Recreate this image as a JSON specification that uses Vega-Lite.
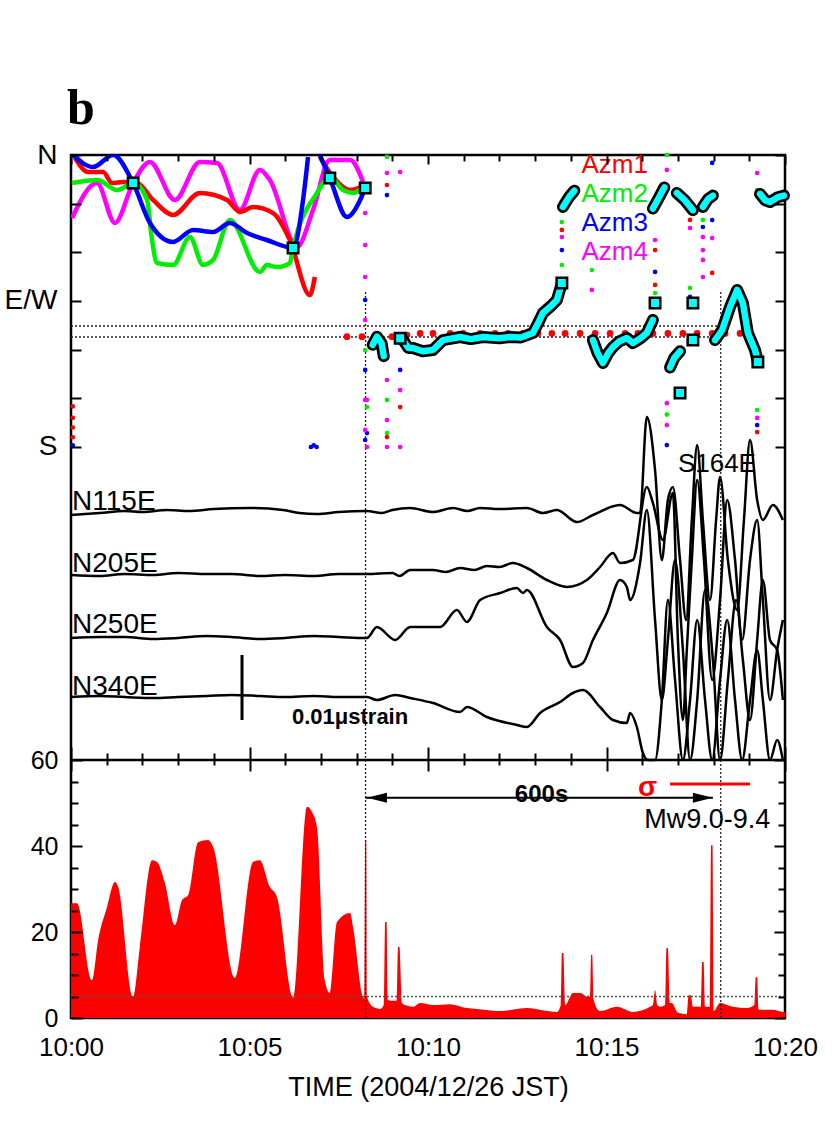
{
"$schema": "https://vega.github.io/schema/vega-lite/v6.json",
"autosize": {"type": "none"},
"padding": {"left": 71, "top": 155, "right": 47, "bottom": 118},
"width": 714,
"height": 863,
"background": "white",
"title": {"text": "b", "anchor": "start", "frame": "group", "font": "Liberation Serif", "fontSize": 50, "fontWeight": "bold", "color": "black", "offset": -33, "baseline": "alphabetic", "dx": -4},
"config": {
  "view": {"stroke": "black", "strokeWidth": 2.5},
  "axis": {"grid": false, "domain": false, "labelColor": "black", "tickColor": "black", "labelFont": "Liberation Sans", "titleFont": "Liberation Sans", "titleColor": "black"},
  "text": {"font": "Liberation Sans"}
},
"datasets": {
  "azm": [
    {"t":0.03,"deg":38.8,"s":"Azm4","seg":"m1"},{"t":0.73,"deg":17.3,"s":"Azm4","seg":"m1"},{"t":1.23,"deg":41.9,"s":"Azm4","seg":"m1"},{"t":1.74,"deg":17.3,"s":"Azm4","seg":"m1"},{"t":2.21,"deg":4.3,"s":"Azm4","seg":"m1"},{"t":2.91,"deg":27.7,"s":"Azm4","seg":"m1"},{"t":3.61,"deg":4.3,"s":"Azm4","seg":"m1"},{"t":4.09,"deg":4.9,"s":"Azm4","seg":"m1"},{"t":4.73,"deg":33.9,"s":"Azm4","seg":"m1"},{"t":5.29,"deg":9.2,"s":"Azm4","seg":"m1"},{"t":5.57,"deg":15.4,"s":"Azm4","seg":"m1"},{"t":6.33,"deg":56.7,"s":"Azm4","seg":"m1"},{"t":6.78,"deg":33.9,"s":"Azm4","seg":"m1"},{"t":7.25,"deg":3.1,"s":"Azm4","seg":"m1"},{"t":7.82,"deg":3.1,"s":"Azm4","seg":"m1"},{"t":8.18,"deg":16.6,"s":"Azm4","seg":"m1"},
    {"t":0.11,"deg":1.8,"s":"Azm1","seg":"r1"},{"t":0.48,"deg":10.5,"s":"Azm1","seg":"r1"},{"t":0.9,"deg":10.5,"s":"Azm1","seg":"r1"},{"t":1.15,"deg":17.3,"s":"Azm1","seg":"r1"},{"t":1.46,"deg":16.6,"s":"Azm1","seg":"r1"},{"t":1.85,"deg":17.3,"s":"Azm1","seg":"r1"},{"t":2.3,"deg":27.7,"s":"Azm1","seg":"r1"},{"t":2.86,"deg":37.0,"s":"Azm1","seg":"r1"},{"t":3.61,"deg":23.4,"s":"Azm1","seg":"r1"},{"t":4.37,"deg":27.7,"s":"Azm1","seg":"r1"},{"t":4.73,"deg":35.1,"s":"Azm1","seg":"r1"},{"t":5.1,"deg":32.1,"s":"Azm1","seg":"r1"},{"t":5.66,"deg":35.8,"s":"Azm1","seg":"r1"},{"t":6.13,"deg":52.4,"s":"Azm1","seg":"r1"},{"t":6.69,"deg":86.3,"s":"Azm1","seg":"r1"},{"t":6.83,"deg":75.2,"s":"Azm1","seg":"r1"},
    {"t":6.97,"deg":1.2,"s":"Azm1","seg":"r2"},{"t":7.34,"deg":13.6,"s":"Azm1","seg":"r2"},{"t":7.82,"deg":21.6,"s":"Azm1","seg":"r2"},{"t":8.15,"deg":19.7,"s":"Azm1","seg":"r2"},
    {"t":0.03,"deg":17.3,"s":"Azm2","seg":"g1"},{"t":0.73,"deg":15.4,"s":"Azm2","seg":"g1"},{"t":1.29,"deg":21.6,"s":"Azm2","seg":"g1"},{"t":1.74,"deg":17.3,"s":"Azm2","seg":"g1"},{"t":2.13,"deg":27.7,"s":"Azm2","seg":"g1"},{"t":2.27,"deg":52.4,"s":"Azm2","seg":"g1"},{"t":2.41,"deg":66.6,"s":"Azm2","seg":"g1"},{"t":2.86,"deg":67.8,"s":"Azm2","seg":"g1"},{"t":3.33,"deg":50.6,"s":"Azm2","seg":"g1"},{"t":3.7,"deg":67.8,"s":"Azm2","seg":"g1"},{"t":3.98,"deg":64.7,"s":"Azm2","seg":"g1"},{"t":4.45,"deg":40.1,"s":"Azm2","seg":"g1"},{"t":5.29,"deg":72.1,"s":"Azm2","seg":"g1"},{"t":5.49,"deg":67.8,"s":"Azm2","seg":"g1"},{"t":5.77,"deg":69.1,"s":"Azm2","seg":"g1"},{"t":6.13,"deg":66.6,"s":"Azm2","seg":"g1"},{"t":6.22,"deg":57.3,"s":"Azm2","seg":"g1"},{"t":6.89,"deg":23.4,"s":"Azm2","seg":"g1"},{"t":7.25,"deg":13.6,"s":"Azm2","seg":"g1"},{"t":7.62,"deg":21.6,"s":"Azm2","seg":"g1"},{"t":7.9,"deg":23.4,"s":"Azm2","seg":"g1"},{"t":8.18,"deg":19.7,"s":"Azm2","seg":"g1"},
    {"t":0.06,"deg":0,"s":"Azm3","seg":"b1"},{"t":0.62,"deg":7.4,"s":"Azm3","seg":"b1"},{"t":1.18,"deg":0,"s":"Azm3","seg":"b1"},{"t":1.74,"deg":17.3,"s":"Azm3","seg":"b1"},{"t":2.21,"deg":41.9,"s":"Azm3","seg":"b1"},{"t":2.86,"deg":53.6,"s":"Azm3","seg":"b1"},{"t":3.42,"deg":46.2,"s":"Azm3","seg":"b1"},{"t":3.98,"deg":47.5,"s":"Azm3","seg":"b1"},{"t":4.45,"deg":41.9,"s":"Azm3","seg":"b1"},{"t":4.93,"deg":48.1,"s":"Azm3","seg":"b1"},{"t":5.49,"deg":52.4,"s":"Azm3","seg":"b1"},{"t":6.22,"deg":57.3,"s":"Azm3","seg":"b1"},{"t":6.5,"deg":27.7,"s":"Azm3","seg":"b1"},{"t":6.64,"deg":1.2,"s":"Azm3","seg":"b1"},
    {"t":6.97,"deg":0,"s":"Azm3","seg":"b2"},{"t":7.25,"deg":14.2,"s":"Azm3","seg":"b2"},{"t":7.73,"deg":38.2,"s":"Azm3","seg":"b2"},{"t":8.1,"deg":27.7,"s":"Azm3","seg":"b2"},{"t":8.24,"deg":20.3,"s":"Azm3","seg":"b2"}
  ],
  "dots": [
    {"t":8.24,"deg":89.4,"s":"Azm3"},{"t":8.24,"deg":132.5,"s":"Azm3"},{"t":8.24,"deg":175.7,"s":"Azm3"},{"t":8.85,"deg":24.7,"s":"Azm3"},{"t":9.22,"deg":132.5,"s":"Azm3"},{"t":13.75,"deg":58.6,"s":"Azm3"},{"t":16.36,"deg":72.1,"s":"Azm3"},{"t":16.69,"deg":178.8,"s":"Azm3"},{"t":17.34,"deg":87.5,"s":"Azm3"},{"t":17.7,"deg":44.4,"s":"Azm3"},{"t":17.96,"deg":4.9,"s":"Azm3"},{"t":17.96,"deg":40.1,"s":"Azm3"},{"t":19.22,"deg":166.5,"s":"Azm3"},{"t":0.05,"deg":179,"s":"Azm3"},{"t":6.72,"deg":180,"s":"Azm3"},{"t":6.8,"deg":179,"s":"Azm3"},{"t":6.88,"deg":180,"s":"Azm3"},{"t":8.29,"deg":171.4,"s":"Azm3"},
    {"t":8.24,"deg":35.8,"s":"Azm4"},{"t":8.24,"deg":55.5,"s":"Azm4"},{"t":8.24,"deg":75.2,"s":"Azm4"},{"t":8.24,"deg":101.7,"s":"Azm4"},{"t":8.24,"deg":151,"s":"Azm4"},{"t":8.24,"deg":169.5,"s":"Azm4"},{"t":8.85,"deg":11.1,"s":"Azm4"},{"t":8.85,"deg":138.7,"s":"Azm4"},{"t":8.85,"deg":163.4,"s":"Azm4"},{"t":8.85,"deg":180,"s":"Azm4"},{"t":9.22,"deg":10.5,"s":"Azm4"},{"t":9.22,"deg":144.9,"s":"Azm4"},{"t":9.22,"deg":180,"s":"Azm4"},{"t":13.75,"deg":50.6,"s":"Azm4"},{"t":14.59,"deg":83.2,"s":"Azm4"},{"t":16.36,"deg":52.4,"s":"Azm4"},{"t":16.69,"deg":9.2,"s":"Azm4"},{"t":16.69,"deg":153,"s":"Azm4"},{"t":16.69,"deg":166.5,"s":"Azm4"},{"t":17.34,"deg":45,"s":"Azm4"},{"t":17.7,"deg":50.6,"s":"Azm4"},{"t":17.7,"deg":58.6,"s":"Azm4"},{"t":17.7,"deg":64.7,"s":"Azm4"},{"t":17.7,"deg":75.2,"s":"Azm4"},{"t":17.96,"deg":51.2,"s":"Azm4"},{"t":19.22,"deg":11.1,"s":"Azm4"},{"t":19.22,"deg":162.1,"s":"Azm4"},{"t":8.29,"deg":151,"s":"Azm4"},{"t":8.29,"deg":180,"s":"Azm4"},
    {"t":8.24,"deg":120.2,"s":"Azm2"},{"t":8.85,"deg":1.2,"s":"Azm2"},{"t":8.85,"deg":151,"s":"Azm2"},{"t":8.85,"deg":171.4,"s":"Azm2"},{"t":13.75,"deg":41.3,"s":"Azm2"},{"t":13.75,"deg":67.8,"s":"Azm2"},{"t":14.59,"deg":70.9,"s":"Azm2"},{"t":16.36,"deg":85.1,"s":"Azm2"},{"t":16.69,"deg":0,"s":"Azm2"},{"t":16.69,"deg":160,"s":"Azm2"},{"t":17.34,"deg":82,"s":"Azm2"},{"t":17.7,"deg":40,"s":"Azm2"},{"t":17.96,"deg":23.4,"s":"Azm2"},{"t":19.22,"deg":21.6,"s":"Azm2"},{"t":19.22,"deg":157.2,"s":"Azm2"},{"t":8.29,"deg":155.4,"s":"Azm2"},
    {"t":8.85,"deg":18.5,"s":"Azm1"},{"t":8.85,"deg":173.9,"s":"Azm1"},{"t":9.22,"deg":155.4,"s":"Azm1"},{"t":13.75,"deg":46.2,"s":"Azm1"},{"t":16.36,"deg":58.6,"s":"Azm1"},{"t":16.36,"deg":80.1,"s":"Azm1"},{"t":17.34,"deg":40,"s":"Azm1"},{"t":17.96,"deg":72.7,"s":"Azm1"},{"t":19.22,"deg":170.8,"s":"Azm1"},{"t":0.05,"deg":155,"s":"Azm1"},{"t":0.05,"deg":162,"s":"Azm1"},{"t":0.05,"deg":168,"s":"Azm1"},{"t":0.05,"deg":174,"s":"Azm1"}
  ],
  "reddots": [
    {"t":7.73,"deg":112},{"t":8.15,"deg":112},{"t":8.57,"deg":112},{"t":8.99,"deg":112},{"t":9.41,"deg":111},{"t":9.78,"deg":110},{"t":10.14,"deg":110},{"t":10.62,"deg":110},{"t":10.98,"deg":110},{"t":11.46,"deg":110},{"t":11.88,"deg":110},{"t":12.24,"deg":110},{"t":12.66,"deg":110},{"t":13.08,"deg":110},{"t":13.47,"deg":110},{"t":13.84,"deg":110},{"t":14.26,"deg":110},{"t":14.68,"deg":110},{"t":15.1,"deg":110},{"t":15.52,"deg":110},{"t":15.88,"deg":110},{"t":16.3,"deg":110},{"t":16.72,"deg":110},{"t":17.14,"deg":110},{"t":17.54,"deg":110},{"t":17.96,"deg":110},{"t":18.32,"deg":110},{"t":18.74,"deg":110}
  ],
  "band": [
    {"t":8.45,"deg":117,"seg":"A"},{"t":8.57,"deg":112,"seg":"A"},{"t":8.7,"deg":116,"seg":"A"},{"t":8.76,"deg":124,"seg":"A"},
    {"t":9.27,"deg":113,"seg":"B"},{"t":9.45,"deg":119,"seg":"B"},{"t":9.58,"deg":119,"seg":"B"},{"t":9.85,"deg":121,"seg":"B"},{"t":10.14,"deg":120.2,"seg":"B"},{"t":10.42,"deg":114.1,"seg":"B"},{"t":10.9,"deg":112.2,"seg":"B"},{"t":11.2,"deg":113.5,"seg":"B"},{"t":11.54,"deg":112.2,"seg":"B"},{"t":12.0,"deg":113,"seg":"B"},{"t":12.3,"deg":112.2,"seg":"B"},{"t":12.6,"deg":112.5,"seg":"B"},{"t":12.94,"deg":109.7,"seg":"B"},{"t":13.1,"deg":103,"seg":"B"},{"t":13.22,"deg":97.4,"seg":"B"},{"t":13.45,"deg":93,"seg":"B"},{"t":13.61,"deg":89.4,"seg":"B"},{"t":13.75,"deg":79,"seg":"B"},
    {"t":13.78,"deg":32,"seg":"C"},{"t":13.95,"deg":26,"seg":"C"},{"t":14.1,"deg":22,"seg":"C"},
    {"t":14.62,"deg":114.1,"seg":"D"},{"t":14.75,"deg":122,"seg":"D"},{"t":14.9,"deg":128.2,"seg":"D"},{"t":15.05,"deg":122,"seg":"D"},{"t":15.18,"deg":118.4,"seg":"D"},{"t":15.35,"deg":115,"seg":"D"},{"t":15.57,"deg":112.8,"seg":"D"},{"t":15.74,"deg":115.9,"seg":"D"},{"t":15.95,"deg":113,"seg":"D"},{"t":16.13,"deg":109.7,"seg":"D"},{"t":16.3,"deg":101.7,"seg":"D"},
    {"t":16.3,"deg":33,"seg":"E"},{"t":16.45,"deg":27,"seg":"E"},{"t":16.62,"deg":20,"seg":"E"},
    {"t":16.78,"deg":131,"seg":"F"},{"t":16.9,"deg":125,"seg":"F"},{"t":17.06,"deg":121,"seg":"F"},
    {"t":16.97,"deg":23.4,"seg":"G"},{"t":17.2,"deg":28,"seg":"G"},{"t":17.42,"deg":34,"seg":"G"},
    {"t":17.7,"deg":32,"seg":"H"},{"t":17.85,"deg":27,"seg":"H"},{"t":17.98,"deg":25,"seg":"H"},
    {"t":18.04,"deg":114.1,"seg":"I"},{"t":18.24,"deg":107.9,"seg":"I"},{"t":18.46,"deg":93.7,"seg":"I"},{"t":18.66,"deg":83.2,"seg":"I"},{"t":18.82,"deg":91.2,"seg":"I"},{"t":18.96,"deg":109.7,"seg":"I"},{"t":19.16,"deg":120.2,"seg":"I"},{"t":19.24,"deg":127.6,"seg":"I"},
    {"t":19.3,"deg":24,"seg":"J"},{"t":19.45,"deg":28,"seg":"J"},{"t":19.58,"deg":29,"seg":"J"},{"t":19.8,"deg":26,"seg":"J"},{"t":19.97,"deg":25,"seg":"J"}
  ],
  "squares": [
    {"t":1.74,"deg":17.3},{"t":6.22,"deg":57.3},{"t":7.25,"deg":14.2},{"t":8.24,"deg":20.3},{"t":9.22,"deg":113},{"t":13.75,"deg":78.9},{"t":16.36,"deg":91.2},{"t":17.06,"deg":146.7},{"t":17.42,"deg":91.2},{"t":17.42,"deg":114},{"t":19.24,"deg":127.6}
  ],
  "legend": [
    {"t":16.16,"deg":6.2,"s":"Azm1"},{"t":16.16,"deg":24.0,"s":"Azm2"},{"t":16.16,"deg":41.9,"s":"Azm3"},{"t":16.16,"deg":59.8,"s":"Azm4"}
  ],
  "hdots": [{"t0":0,"t1":18.2,"deg":105.4},{"t0":0,"t1":18.2,"deg":112.2}],
  "vdots": [{"t":8.25,"d0":84.5,"d1":532},{"t":18.2,"d0":84.5,"d1":532}],
  "strain": [
    {"t":0.0,"v":245,"k":"N115E"},{"t":0.8,"v":247,"k":"N115E"},{"t":1.5,"v":249,"k":"N115E"},{"t":2.0,"v":248,"k":"N115E"},{"t":2.69,"v":250,"k":"N115E"},{"t":3.3,"v":249,"k":"N115E"},{"t":4.0,"v":251,"k":"N115E"},{"t":5.01,"v":252,"k":"N115E"},{"t":5.94,"v":250,"k":"N115E"},{"t":6.4,"v":247,"k":"N115E"},{"t":6.89,"v":246,"k":"N115E"},{"t":7.5,"v":248,"k":"N115E"},{"t":8.29,"v":249,"k":"N115E"},{"t":8.7,"v":247,"k":"N115E"},{"t":9.0,"v":250,"k":"N115E"},{"t":9.5,"v":252,"k":"N115E"},{"t":10.14,"v":248,"k":"N115E"},{"t":10.7,"v":252,"k":"N115E"},{"t":11.1,"v":249,"k":"N115E"},{"t":11.46,"v":252,"k":"N115E"},{"t":12.0,"v":251,"k":"N115E"},{"t":12.77,"v":252,"k":"N115E"},{"t":13.22,"v":247,"k":"N115E"},{"t":13.61,"v":250,"k":"N115E"},{"t":14.17,"v":238,"k":"N115E"},{"t":14.62,"v":245,"k":"N115E"},{"t":15.38,"v":255,"k":"N115E"},{"t":15.85,"v":247,"k":"N115E"},{"t":15.94,"v":247,"k":"N115E"},{"t":16.13,"v":343,"k":"N115E"},{"t":16.36,"v":290,"k":"N115E"},{"t":16.55,"v":200,"k":"N115E"},{"t":16.72,"v":260,"k":"N115E"},{"t":16.86,"v":273,"k":"N115E"},{"t":17.06,"v":200,"k":"N115E"},{"t":17.23,"v":140,"k":"N115E"},{"t":17.39,"v":240,"k":"N115E"},{"t":17.54,"v":315,"k":"N115E"},{"t":17.7,"v":240,"k":"N115E"},{"t":17.9,"v":160,"k":"N115E"},{"t":18.07,"v":240,"k":"N115E"},{"t":18.18,"v":283,"k":"N115E"},{"t":18.4,"v":200,"k":"N115E"},{"t":18.66,"v":150,"k":"N115E"},{"t":18.85,"v":240,"k":"N115E"},{"t":19.02,"v":320,"k":"N115E"},{"t":19.22,"v":260,"k":"N115E"},{"t":19.38,"v":240,"k":"N115E"},{"t":19.66,"v":255,"k":"N115E"},{"t":19.94,"v":240,"k":"N115E"},
    {"t":0.0,"v":185,"k":"N205E"},{"t":0.8,"v":184,"k":"N205E"},{"t":1.5,"v":186,"k":"N205E"},{"t":2.3,"v":185,"k":"N205E"},{"t":3.0,"v":187,"k":"N205E"},{"t":3.8,"v":186,"k":"N205E"},{"t":4.5,"v":186,"k":"N205E"},{"t":5.3,"v":184,"k":"N205E"},{"t":6.0,"v":185,"k":"N205E"},{"t":6.8,"v":184,"k":"N205E"},{"t":7.5,"v":186,"k":"N205E"},{"t":8.29,"v":186,"k":"N205E"},{"t":9.0,"v":187,"k":"N205E"},{"t":9.2,"v":184,"k":"N205E"},{"t":9.5,"v":190,"k":"N205E"},{"t":10.14,"v":190,"k":"N205E"},{"t":10.5,"v":188,"k":"N205E"},{"t":10.9,"v":192,"k":"N205E"},{"t":11.3,"v":190,"k":"N205E"},{"t":11.65,"v":194,"k":"N205E"},{"t":12.0,"v":193,"k":"N205E"},{"t":12.38,"v":197,"k":"N205E"},{"t":12.77,"v":192,"k":"N205E"},{"t":13.33,"v":180,"k":"N205E"},{"t":13.89,"v":173,"k":"N205E"},{"t":14.45,"v":180,"k":"N205E"},{"t":14.82,"v":193,"k":"N205E"},{"t":15.18,"v":207,"k":"N205E"},{"t":15.38,"v":197,"k":"N205E"},{"t":15.74,"v":200,"k":"N205E"},{"t":16.13,"v":273,"k":"N205E"},{"t":16.3,"v":257,"k":"N205E"},{"t":16.58,"v":220,"k":"N205E"},{"t":16.86,"v":267,"k":"N205E"},{"t":17.0,"v":120,"k":"N205E"},{"t":17.14,"v":40,"k":"N205E"},{"t":17.25,"v":110,"k":"N205E"},{"t":17.39,"v":200,"k":"N205E"},{"t":17.54,"v":280,"k":"N205E"},{"t":17.73,"v":200,"k":"N205E"},{"t":17.96,"v":80,"k":"N205E"},{"t":18.18,"v":160,"k":"N205E"},{"t":18.38,"v":260,"k":"N205E"},{"t":18.6,"v":200,"k":"N205E"},{"t":18.8,"v":120,"k":"N205E"},{"t":19.02,"v":200,"k":"N205E"},{"t":19.22,"v":240,"k":"N205E"},{"t":19.38,"v":160,"k":"N205E"},{"t":19.58,"v":60,"k":"N205E"},{"t":19.78,"v":110,"k":"N205E"},{"t":19.94,"v":140,"k":"N205E"},
    {"t":0.0,"v":122,"k":"N250E"},{"t":0.8,"v":123,"k":"N250E"},{"t":1.5,"v":123,"k":"N250E"},{"t":2.3,"v":121,"k":"N250E"},{"t":3.0,"v":122,"k":"N250E"},{"t":3.8,"v":124,"k":"N250E"},{"t":4.5,"v":123,"k":"N250E"},{"t":5.3,"v":121,"k":"N250E"},{"t":6.0,"v":122,"k":"N250E"},{"t":6.8,"v":124,"k":"N250E"},{"t":7.5,"v":123,"k":"N250E"},{"t":8.29,"v":122,"k":"N250E"},{"t":8.57,"v":133,"k":"N250E"},{"t":9.08,"v":120,"k":"N250E"},{"t":9.5,"v":133,"k":"N250E"},{"t":9.69,"v":133,"k":"N250E"},{"t":10.34,"v":133,"k":"N250E"},{"t":10.81,"v":150,"k":"N250E"},{"t":11.09,"v":138,"k":"N250E"},{"t":11.46,"v":160,"k":"N250E"},{"t":12.02,"v":167,"k":"N250E"},{"t":12.49,"v":172,"k":"N250E"},{"t":12.66,"v":167,"k":"N250E"},{"t":12.77,"v":170,"k":"N250E"},{"t":13.33,"v":133,"k":"N250E"},{"t":13.7,"v":120,"k":"N250E"},{"t":14.06,"v":93,"k":"N250E"},{"t":14.34,"v":97,"k":"N250E"},{"t":14.62,"v":120,"k":"N250E"},{"t":15.01,"v":147,"k":"N250E"},{"t":15.38,"v":180,"k":"N250E"},{"t":15.57,"v":173,"k":"N250E"},{"t":15.66,"v":160,"k":"N250E"},{"t":15.94,"v":197,"k":"N250E"},{"t":16.13,"v":250,"k":"N250E"},{"t":16.36,"v":140,"k":"N250E"},{"t":16.55,"v":60,"k":"N250E"},{"t":16.72,"v":120,"k":"N250E"},{"t":16.92,"v":200,"k":"N250E"},{"t":17.14,"v":110,"k":"N250E"},{"t":17.34,"v":0,"k":"N250E"},{"t":17.54,"v":60,"k":"N250E"},{"t":17.76,"v":170,"k":"N250E"},{"t":17.98,"v":100,"k":"N250E"},{"t":18.18,"v":0,"k":"N250E"},{"t":18.4,"v":80,"k":"N250E"},{"t":18.63,"v":160,"k":"N250E"},{"t":18.82,"v":100,"k":"N250E"},{"t":19.02,"v":40,"k":"N250E"},{"t":19.22,"v":120,"k":"N250E"},{"t":19.38,"v":180,"k":"N250E"},{"t":19.58,"v":120,"k":"N250E"},{"t":19.78,"v":110,"k":"N250E"},{"t":19.94,"v":60,"k":"N250E"},
    {"t":0.0,"v":63,"k":"N340E"},{"t":0.8,"v":64,"k":"N340E"},{"t":1.5,"v":63,"k":"N340E"},{"t":2.3,"v":62,"k":"N340E"},{"t":3.0,"v":63,"k":"N340E"},{"t":3.8,"v":64,"k":"N340E"},{"t":4.5,"v":65,"k":"N340E"},{"t":5.3,"v":64,"k":"N340E"},{"t":6.0,"v":63,"k":"N340E"},{"t":6.8,"v":64,"k":"N340E"},{"t":7.5,"v":63,"k":"N340E"},{"t":8.29,"v":63,"k":"N340E"},{"t":8.57,"v":60,"k":"N340E"},{"t":9.08,"v":65,"k":"N340E"},{"t":9.5,"v":62,"k":"N340E"},{"t":10.14,"v":57,"k":"N340E"},{"t":10.9,"v":48,"k":"N340E"},{"t":11.09,"v":53,"k":"N340E"},{"t":11.65,"v":43,"k":"N340E"},{"t":12.49,"v":35,"k":"N340E"},{"t":12.77,"v":33,"k":"N340E"},{"t":13.14,"v":47,"k":"N340E"},{"t":13.7,"v":58,"k":"N340E"},{"t":14.06,"v":67,"k":"N340E"},{"t":14.34,"v":70,"k":"N340E"},{"t":14.82,"v":53,"k":"N340E"},{"t":15.18,"v":40,"k":"N340E"},{"t":15.57,"v":37,"k":"N340E"},{"t":15.66,"v":47,"k":"N340E"},{"t":15.85,"v":33,"k":"N340E"},{"t":16.02,"v":7,"k":"N340E"},{"t":16.16,"v":0,"k":"N340E"},{"t":16.36,"v":0,"k":"N340E"},{"t":16.55,"v":60,"k":"N340E"},{"t":16.72,"v":160,"k":"N340E"},{"t":16.92,"v":80,"k":"N340E"},{"t":17.14,"v":0,"k":"N340E"},{"t":17.34,"v":60,"k":"N340E"},{"t":17.54,"v":140,"k":"N340E"},{"t":17.76,"v":60,"k":"N340E"},{"t":17.96,"v":0,"k":"N340E"},{"t":18.18,"v":80,"k":"N340E"},{"t":18.38,"v":140,"k":"N340E"},{"t":18.6,"v":60,"k":"N340E"},{"t":18.8,"v":0,"k":"N340E"},{"t":19.02,"v":60,"k":"N340E"},{"t":19.22,"v":110,"k":"N340E"},{"t":19.38,"v":60,"k":"N340E"},{"t":19.58,"v":0,"k":"N340E"},{"t":19.78,"v":20,"k":"N340E"},{"t":19.94,"v":0,"k":"N340E"}
  ],
  "strainLabels": [
    {"t":0.03,"v":250,"label":"N115E"},{"t":0.03,"v":188,"label":"N205E"},{"t":0.03,"v":127,"label":"N250E"},{"t":0.03,"v":65,"label":"N340E"}
  ],
  "scalebar": [{"t":4.79,"v0":40,"v1":105}],
  "scaleText": [{"t":6.19,"v":36,"label":"0.01μstrain"}],
  "dirText": [{"t":17.0,"v":296,"label":"S164E"}],
  "amp": [
    {"t":0,"a":26.7},{"t":0.17,"a":26.7},{"t":0.59,"a":8.8},{"t":0.76,"a":18.1},{"t":1.01,"a":25.8},{"t":1.23,"a":31.6},{"t":1.32,"a":30.5},{"t":1.74,"a":4.9},{"t":1.93,"a":16.5},{"t":2.27,"a":36.7},{"t":2.41,"a":36.3},{"t":2.63,"a":31.4},{"t":2.91,"a":21.6},{"t":3.11,"a":27.4},{"t":3.28,"a":28.6},{"t":3.56,"a":40.9},{"t":3.84,"a":41.4},{"t":3.98,"a":39.8},{"t":4.59,"a":9.3},{"t":5.1,"a":36.3},{"t":5.29,"a":36.7},{"t":5.57,"a":30.5},{"t":5.77,"a":28.1},{"t":6.22,"a":4.7},{"t":6.61,"a":49.1},{"t":6.75,"a":47.9},{"t":6.89,"a":44.4},{"t":7.11,"a":8.8},{"t":7.25,"a":5.8},{"t":7.45,"a":22.3},{"t":7.82,"a":24.4},{"t":7.9,"a":21.2},{"t":8.18,"a":4.9},{"t":8.22,"a":4.5},{"t":8.24,"a":41.4},{"t":8.27,"a":41.4},{"t":8.29,"a":5},{"t":8.46,"a":2.6},{"t":8.66,"a":2.1},{"t":8.76,"a":3},{"t":8.8,"a":22.3},{"t":8.84,"a":22.3},{"t":8.88,"a":4.2},{"t":9.0,"a":4},{"t":9.12,"a":4},{"t":9.16,"a":16.5},{"t":9.2,"a":16.5},{"t":9.27,"a":3.5},{"t":9.36,"a":3.0},{"t":9.58,"a":2.6},{"t":9.78,"a":3.5},{"t":10.14,"a":3.0},{"t":10.6,"a":3.2},{"t":11.09,"a":2.3},{"t":11.5,"a":2.0},{"t":12.02,"a":1.6},{"t":12.4,"a":2.0},{"t":12.77,"a":2.3},{"t":13.2,"a":1.8},{"t":13.61,"a":1.4},{"t":13.72,"a":3},{"t":13.75,"a":15.1},{"t":13.79,"a":15.1},{"t":13.84,"a":3.0},{"t":14.06,"a":5.8},{"t":14.26,"a":5.8},{"t":14.48,"a":4.9},{"t":14.54,"a":5},{"t":14.57,"a":14.7},{"t":14.6,"a":14.7},{"t":14.64,"a":4.2},{"t":14.82,"a":1.6},{"t":15.29,"a":2.6},{"t":15.74,"a":1.4},{"t":16.22,"a":2.6},{"t":16.3,"a":3},{"t":16.36,"a":6.5},{"t":16.42,"a":3},{"t":16.5,"a":2.6},{"t":16.64,"a":3},{"t":16.68,"a":16.3},{"t":16.72,"a":16.3},{"t":16.77,"a":3.5},{"t":16.83,"a":3.5},{"t":17.0,"a":1.2},{"t":17.25,"a":0.9},{"t":17.3,"a":5.3},{"t":17.36,"a":5.3},{"t":17.42,"a":2.6},{"t":17.64,"a":2.6},{"t":17.68,"a":13.0},{"t":17.72,"a":13.0},{"t":17.76,"a":2.6},{"t":17.9,"a":2.6},{"t":17.93,"a":40.2},{"t":17.97,"a":40.2},{"t":18.0,"a":1.6},{"t":18.18,"a":3.5},{"t":18.54,"a":2.6},{"t":18.94,"a":2.3},{"t":19.14,"a":3},{"t":19.18,"a":9.5},{"t":19.22,"a":9.5},{"t":19.26,"a":2},{"t":19.3,"a":1.9},{"t":19.66,"a":1.9},{"t":19.94,"a":1.4},{"t":20,"a":1.5}
  ],
  "thresh": [{"t0":0,"t1":20,"a":5}],
  "panelTop": [{"t0":0,"t1":20,"a":60}],
  "arrow": [{"t0":8.25,"t1":17.98,"a":51.2}],
  "heads": [{"t":8.57,"a":51.2,"end":"left"},{"t":17.7,"a":51.2,"end":"right"}],
  "spanText": [{"t":13.18,"a":51.9,"label":"600s"}],
  "sigmaText": [{"t":16.15,"a":53.4,"label":"σ"}],
  "sigmaLine": [{"t0":16.78,"t1":19.02,"a":54.4}],
  "mwText": [{"t":17.82,"a":46,"label":"Mw9.0-9.4"}]
},
"resolve": {"scale": {"x": "independent", "y": "independent"}},
"layer": [
  {"data": {"name": "amp"}, "mark": {"type": "area", "color": "#ff0000", "opacity": 1, "interpolate": "monotone"},
   "encoding": {
     "x": {"field": "t", "type": "quantitative", "scale": {"domain": [0, 20], "nice": false, "zero": false},
           "axis": {"orient": "bottom", "values": [0, 5, 10, 15, 20], "ticks": false, "labelFlush": false, "labelOverlap": false, "labelFontSize": 26, "labelPadding": 16, "labelExpr": "'10:' + (datum.value < 10 ? '0' : '') + datum.value", "title": "TIME (2004/12/26 JST)", "titleFontSize": 27, "titleFontWeight": "normal", "titlePadding": 14}},
     "y": {"field": "a", "type": "quantitative", "scale": {"domain": [0, 200.7], "nice": false, "zero": false},
           "axis": {"orient": "left", "values": [0,5,10,15,20,25,30,35,40,45,50,55,60], "title": null, "labelFontSize": 25, "labelPadding": 24, "labelExpr": "datum.value % 20 === 0 ? datum.label : ''", "tickWidth": 2, "tickSize": {"condition": {"test": "datum.value % 20 === 0", "value": -11}, "value": -7}, "zindex": 1}}}},
  {"data": {"name": "thresh"}, "mark": {"type": "rule", "strokeDash": [2, 2], "color": "#555555", "strokeWidth": 1.3},
   "encoding": {
     "x": {"field": "t0", "type": "quantitative", "scale": {"domain": [0, 20], "nice": false, "zero": false},
           "axis": {"orient": "bottom", "offset": -258, "values": [0,1,2,3,4,5,6,7,8,9,10,11,12,13,14,15,16,17,18,19,20], "labels": false, "title": null, "tickWidth": 2, "tickSize": {"condition": {"test": "datum.value % 5 === 0", "value": 11}, "value": 5}, "zindex": 1}},
     "x2": {"field": "t1"},
     "y": {"field": "a", "type": "quantitative", "scale": {"domain": [0, 200.7], "nice": false, "zero": false},
           "axis": {"orient": "right", "values": [0,5,10,15,20,25,30,35,40,45,50,55,60], "title": null, "labels": false, "tickWidth": 2, "tickSize": {"condition": {"test": "datum.value % 20 === 0", "value": -11}, "value": -7}, "zindex": 1}}}},
  {"data": {"name": "panelTop"}, "mark": {"type": "rule", "strokeWidth": 2.5, "color": "black"},
   "encoding": {
     "x": {"field": "t0", "type": "quantitative", "scale": {"domain": [0, 20], "nice": false, "zero": false},
           "axis": {"orient": "top", "offset": -605, "values": [0,1,2,3,4,5,6,7,8,9,10,11,12,13,14,15,16,17,18,19,20], "labels": false, "title": null, "tickWidth": 2, "tickSize": {"condition": {"test": "datum.value % 5 === 0", "value": 13}, "value": 7}, "zindex": 1}},
     "x2": {"field": "t1"},
     "y": {"field": "a", "type": "quantitative", "scale": {"domain": [0, 200.7], "nice": false, "zero": false}, "axis": null}}},
  {"data": {"name": "hdots"}, "mark": {"type": "rule", "strokeDash": [2, 2], "color": "#222222", "strokeWidth": 1.3},
   "encoding": {"x": {"field": "t0", "type": "quantitative", "scale": {"domain": [0, 20], "nice": false, "zero": false}, "axis": null}, "x2": {"field": "t1"},
                "y": {"field": "deg", "type": "quantitative", "scale": {"domain": [0, 532], "reverse": true, "nice": false, "zero": false}, "axis": null}}},
  {"data": {"name": "vdots"}, "mark": {"type": "rule", "strokeDash": [2, 2], "color": "#222222", "strokeWidth": 1.3},
   "encoding": {"x": {"field": "t", "type": "quantitative", "scale": {"domain": [0, 20], "nice": false, "zero": false}, "axis": null},
                "y": {"field": "d0", "type": "quantitative", "scale": {"domain": [0, 532], "reverse": true, "nice": false, "zero": false}, "axis": null}, "y2": {"field": "d1"}}},
  {"data": {"name": "azm"}, "mark": {"type": "line", "strokeWidth": 4.5, "clip": true, "interpolate": "monotone"},
   "encoding": {
     "x": {"field": "t", "type": "quantitative", "scale": {"domain": [0, 20], "nice": false, "zero": false},
           "axis": {"orient": "top", "values": [0,1,2,3,4,5,6,7,8,9,10,11,12,13,14,15,16,17,18,19,20], "labels": false, "title": null, "tickWidth": 2, "tickSize": {"condition": {"test": "datum.value % 5 === 0", "value": -9}, "value": -6}, "zindex": 1}},
     "y": {"field": "deg", "type": "quantitative", "scale": {"domain": [0, 532], "reverse": true, "nice": false, "zero": false},
           "axis": {"orient": "left", "values": [0, 30, 60, 90, 120, 150, 180], "title": null, "tickSize": -10, "tickWidth": 2, "labelFontSize": 28, "labelPadding": 24, "labelExpr": "datum.value == 0 ? 'N' : datum.value == 90 ? 'E/W' : datum.value == 180 ? 'S' : ''", "zindex": 1}},
     "color": {"field": "s", "type": "nominal", "scale": {"domain": ["Azm1", "Azm2", "Azm3", "Azm4"], "range": ["#ff0000", "#00ee00", "#0000ff", "#ff00ff"]}, "legend": null},
     "detail": {"field": "seg", "type": "nominal"}}},
  {"data": {"name": "dots"}, "mark": {"type": "circle", "size": 22, "opacity": 1},
   "encoding": {
     "x": {"field": "t", "type": "quantitative", "scale": {"domain": [0, 20], "nice": false, "zero": false}, "axis": null},
     "y": {"field": "deg", "type": "quantitative", "scale": {"domain": [0, 532], "reverse": true, "nice": false, "zero": false},
           "axis": {"orient": "right", "values": [0, 30, 60, 90, 120, 150, 180], "title": null, "labels": false, "tickSize": -10, "tickWidth": 2, "zindex": 1}},
     "color": {"field": "s", "type": "nominal", "scale": {"domain": ["Azm1", "Azm2", "Azm3", "Azm4"], "range": ["#ff0000", "#00ee00", "#0000ff", "#ff00ff"]}, "legend": null}}},
  {"data": {"name": "reddots"}, "mark": {"type": "circle", "size": 45, "color": "#ff0000", "opacity": 1},
   "encoding": {"x": {"field": "t", "type": "quantitative", "scale": {"domain": [0, 20], "nice": false, "zero": false}, "axis": null},
                "y": {"field": "deg", "type": "quantitative", "scale": {"domain": [0, 532], "reverse": true, "nice": false, "zero": false}, "axis": null}}},
  {"data": {"name": "band"}, "mark": {"type": "line", "strokeWidth": 12, "color": "black", "strokeCap": "round", "strokeJoin": "round"},
   "encoding": {"x": {"field": "t", "type": "quantitative", "scale": {"domain": [0, 20], "nice": false, "zero": false}, "axis": null},
                "y": {"field": "deg", "type": "quantitative", "scale": {"domain": [0, 532], "reverse": true, "nice": false, "zero": false}, "axis": null},
                "detail": {"field": "seg", "type": "nominal"}}},
  {"data": {"name": "band"}, "mark": {"type": "line", "strokeWidth": 6.5, "color": "#00ffff", "strokeCap": "round", "strokeJoin": "round"},
   "encoding": {"x": {"field": "t", "type": "quantitative", "scale": {"domain": [0, 20], "nice": false, "zero": false}, "axis": null},
                "y": {"field": "deg", "type": "quantitative", "scale": {"domain": [0, 532], "reverse": true, "nice": false, "zero": false}, "axis": null},
                "detail": {"field": "seg", "type": "nominal"}}},
  {"data": {"name": "squares"}, "mark": {"type": "point", "shape": "square", "size": 110, "filled": true, "fill": "#00ffff", "stroke": "black", "strokeWidth": 2.5, "opacity": 1},
   "encoding": {"x": {"field": "t", "type": "quantitative", "scale": {"domain": [0, 20], "nice": false, "zero": false}, "axis": null},
                "y": {"field": "deg", "type": "quantitative", "scale": {"domain": [0, 532], "reverse": true, "nice": false, "zero": false}, "axis": null}}},
  {"data": {"name": "legend"}, "mark": {"type": "text", "align": "right", "baseline": "middle", "fontSize": 26},
   "encoding": {"x": {"field": "t", "type": "quantitative", "scale": {"domain": [0, 20], "nice": false, "zero": false}, "axis": null},
                "y": {"field": "deg", "type": "quantitative", "scale": {"domain": [0, 532], "reverse": true, "nice": false, "zero": false}, "axis": null},
                "text": {"field": "s"},
                "color": {"field": "s", "type": "nominal", "scale": {"domain": ["Azm1", "Azm2", "Azm3", "Azm4"], "range": ["#ff0000", "#00ee00", "#0000ff", "#ff00ff"]}, "legend": null}}},
  {"data": {"name": "strain"}, "mark": {"type": "line", "strokeWidth": 2.5, "color": "black", "clip": true, "interpolate": "monotone"},
   "encoding": {"x": {"field": "t", "type": "quantitative", "scale": {"domain": [0, 20], "nice": false, "zero": false}, "axis": null},
                "y": {"field": "v", "type": "quantitative", "scale": {"domain": [-258, 605], "nice": false, "zero": false}, "axis": null},
                "detail": {"field": "k", "type": "nominal"}}},
  {"data": {"name": "strainLabels"}, "mark": {"type": "text", "align": "left", "baseline": "alphabetic", "fontSize": 28, "color": "black"},
   "encoding": {"x": {"field": "t", "type": "quantitative", "scale": {"domain": [0, 20], "nice": false, "zero": false}, "axis": null},
                "y": {"field": "v", "type": "quantitative", "scale": {"domain": [-258, 605], "nice": false, "zero": false}, "axis": null},
                "text": {"field": "label"}}},
  {"data": {"name": "scalebar"}, "mark": {"type": "rule", "strokeWidth": 3, "color": "black"},
   "encoding": {"x": {"field": "t", "type": "quantitative", "scale": {"domain": [0, 20], "nice": false, "zero": false}, "axis": null},
                "y": {"field": "v0", "type": "quantitative", "scale": {"domain": [-258, 605], "nice": false, "zero": false}, "axis": null}, "y2": {"field": "v1"}}},
  {"data": {"name": "scaleText"}, "mark": {"type": "text", "align": "left", "baseline": "alphabetic", "fontSize": 22, "fontWeight": "bold", "color": "black"},
   "encoding": {"x": {"field": "t", "type": "quantitative", "scale": {"domain": [0, 20], "nice": false, "zero": false}, "axis": null},
                "y": {"field": "v", "type": "quantitative", "scale": {"domain": [-258, 605], "nice": false, "zero": false}, "axis": null},
                "text": {"field": "label"}}},
  {"data": {"name": "dirText"}, "mark": {"type": "text", "align": "left", "baseline": "middle", "fontSize": 26, "color": "black"},
   "encoding": {"x": {"field": "t", "type": "quantitative", "scale": {"domain": [0, 20], "nice": false, "zero": false}, "axis": null},
                "y": {"field": "v", "type": "quantitative", "scale": {"domain": [-258, 605], "nice": false, "zero": false}, "axis": null},
                "text": {"field": "label"}}},
  {"data": {"name": "arrow"}, "mark": {"type": "rule", "strokeWidth": 2, "color": "black"},
   "encoding": {"x": {"field": "t0", "type": "quantitative", "scale": {"domain": [0, 20], "nice": false, "zero": false}, "axis": null}, "x2": {"field": "t1"},
                "y": {"field": "a", "type": "quantitative", "scale": {"domain": [0, 200.7], "nice": false, "zero": false}, "axis": null}}},
  {"data": {"name": "heads"}, "mark": {"type": "point", "filled": true, "color": "black", "size": 400, "opacity": 1},
   "encoding": {"x": {"field": "t", "type": "quantitative", "scale": {"domain": [0, 20], "nice": false, "zero": false}, "axis": null},
                "y": {"field": "a", "type": "quantitative", "scale": {"domain": [0, 200.7], "nice": false, "zero": false}, "axis": null},
                "shape": {"field": "end", "type": "nominal", "scale": {"domain": ["left", "right"], "range": ["M-1,0L1,-0.5L1,0.5Z", "M1,0L-1,-0.5L-1,0.5Z"]}, "legend": null}}},
  {"data": {"name": "spanText"}, "mark": {"type": "text", "align": "center", "baseline": "middle", "fontSize": 24, "fontWeight": "bold", "color": "black"},
   "encoding": {"x": {"field": "t", "type": "quantitative", "scale": {"domain": [0, 20], "nice": false, "zero": false}, "axis": null},
                "y": {"field": "a", "type": "quantitative", "scale": {"domain": [0, 200.7], "nice": false, "zero": false}, "axis": null},
                "text": {"field": "label"}}},
  {"data": {"name": "sigmaLine"}, "mark": {"type": "rule", "strokeWidth": 3, "color": "#ff0000"},
   "encoding": {"x": {"field": "t0", "type": "quantitative", "scale": {"domain": [0, 20], "nice": false, "zero": false}, "axis": null}, "x2": {"field": "t1"},
                "y": {"field": "a", "type": "quantitative", "scale": {"domain": [0, 200.7], "nice": false, "zero": false}, "axis": null}}},
  {"data": {"name": "sigmaText"}, "mark": {"type": "text", "align": "center", "baseline": "middle", "fontSize": 28, "fontWeight": "bold", "color": "#ff0000"},
   "encoding": {"x": {"field": "t", "type": "quantitative", "scale": {"domain": [0, 20], "nice": false, "zero": false}, "axis": null},
                "y": {"field": "a", "type": "quantitative", "scale": {"domain": [0, 200.7], "nice": false, "zero": false}, "axis": null},
                "text": {"field": "label"}}},
  {"data": {"name": "mwText"}, "mark": {"type": "text", "align": "center", "baseline": "middle", "fontSize": 27, "color": "black"},
   "encoding": {"x": {"field": "t", "type": "quantitative", "scale": {"domain": [0, 20], "nice": false, "zero": false}, "axis": null},
                "y": {"field": "a", "type": "quantitative", "scale": {"domain": [0, 200.7], "nice": false, "zero": false}, "axis": null},
                "text": {"field": "label"}}}
]
}
